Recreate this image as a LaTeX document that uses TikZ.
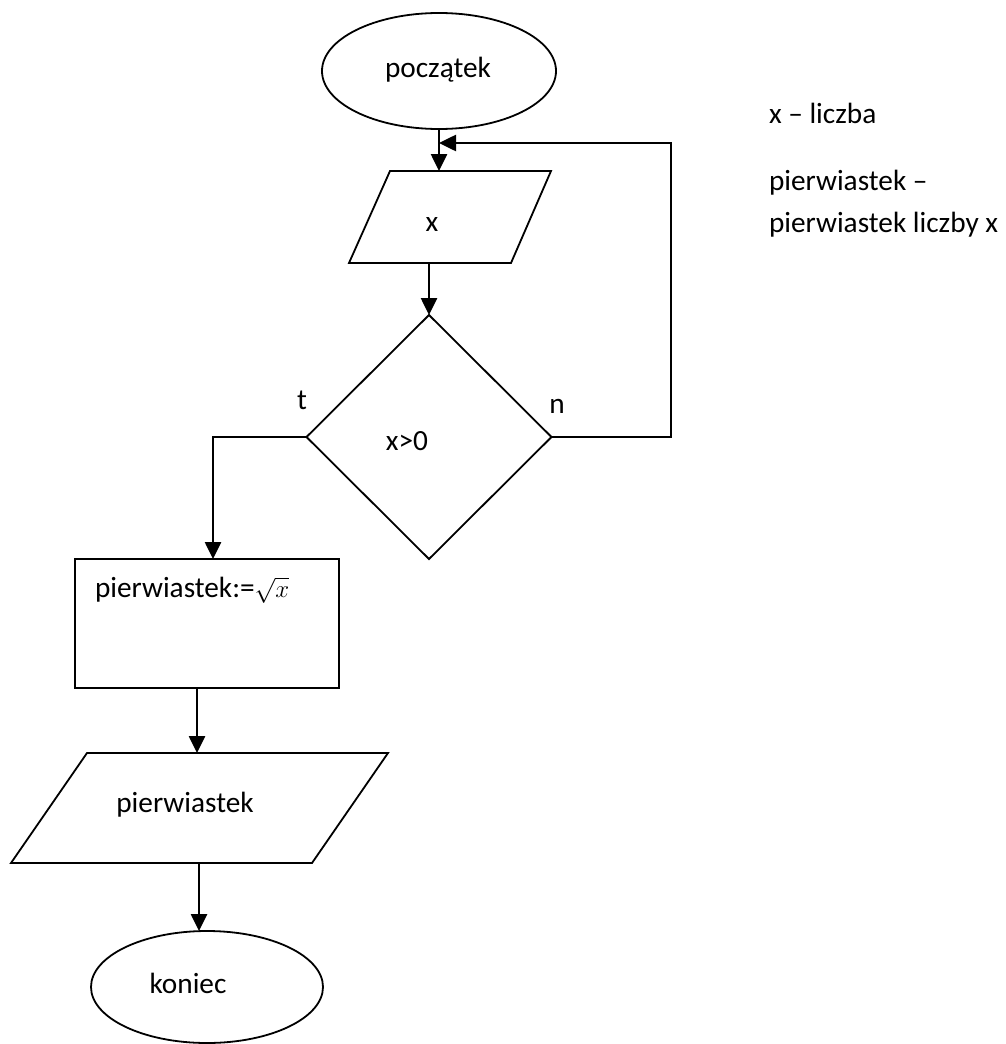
\documentclass[tikz,border=0pt]{standalone}
\usepackage{fontspec}
\setmainfont{Carlito}
\usetikzlibrary{shapes.geometric,arrows.meta}
\begin{document}
\begin{tikzpicture}[x=1pt,y=-1pt,
  every node/.style={font=\fontsize{29.3}{42}\selectfont},
  shp/.style={draw,line width=1.8pt,inner sep=0pt,outer sep=0pt},
  oval/.style={shp,ellipse},
  txt/.style={inner sep=0pt,outer sep=0pt},
  conn/.style={line width=2.6pt,-{Triangle[length=17pt,width=16pt]}},
  plain/.style={line width=1.8pt}]
\useasboundingbox (0,0) rectangle (1005,1044);
% start
\node[oval,minimum width=234pt,minimum height=116pt] (start) at (439,71) {};
\node[txt] (tstart) at (438,70) {początek};
% input parallelogram
\draw[plain,line join=miter] (390,171) -- (551,171) -- (511,263) -- (349,263) -- cycle;
\coordinate (p1in) at (439,171);
\coordinate (p1out) at (429,263);
\node[txt] (tx) at (432,225) {x};
% decision
\node[shp,diamond,minimum width=245pt,minimum height=244pt,aspect=1] (dec) at (429,437) {};
\node[txt] (tdec) at (407,441) {x>0};
\node[txt] (tt) at (302,400) {t};
\node[txt] (tn) at (557,406) {n};
% process
\node[shp,rectangle,minimum width=264pt,minimum height=129pt] (proc) at (207,623.5) {};
\node[txt,anchor=west] (tproc) at (95,590) {pierwiastek:=$\sqrt{x}$};
% output parallelogram
\draw[plain,line join=miter] (87,753) -- (388,753) -- (312,863) -- (11,863) -- cycle;
\coordinate (p2in) at (197,753);
\coordinate (p2out) at (199,863);
\node[txt] (tout) at (185,805) {pierwiastek};
% end
\node[oval,minimum width=232pt,minimum height=112pt] (end) at (207,987) {};
\coordinate (ein) at (199,931);
\node[txt] (tend) at (188,983) {koniec};
% legend
\node[txt,anchor=base west] (l1) at (769,123) {x – liczba};
\node[txt,anchor=base west] (l2) at (769,190) {pierwiastek –};
\node[txt,anchor=base west] (l3) at (769,232) {pierwiastek liczby x};
% connectors
\coordinate (loopin) at (439,143);
\coordinate (nt) at (671,143);
\coordinate (tin) at (213,559);
\draw[conn] (start.south) -- (p1in);
\draw[conn] (p1out) -- (dec.north);
\draw[conn] (dec.east) -- (dec.east -| nt) -- (nt) -- (loopin);
\draw[conn] (dec.west) -- (dec.west -| tin) -- (tin);
\draw[conn] (proc.south -| p2in) -- (p2in);
\draw[conn] (p2out) -- (ein);
\end{tikzpicture}
\end{document}
